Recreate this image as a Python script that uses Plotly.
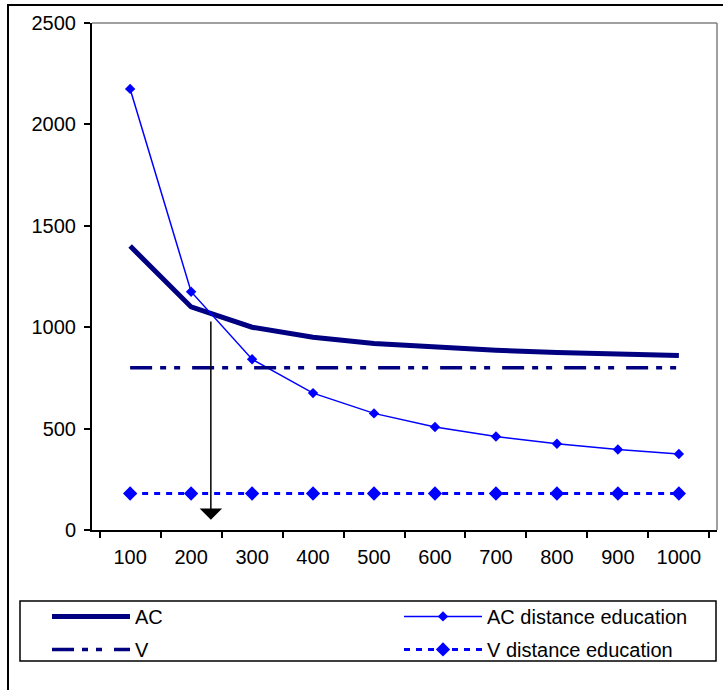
import plotly.graph_objects as go

students = ["100", "200", "300", "400", "500", "600", "700", "800", "900", "1000"]
ac = [1400, 1100, 1000, 950, 920, 900, 886, 875, 867, 860]
ac_distance = [2175, 1175, 842, 675, 575, 508, 461, 425, 397, 375]
v = [800] * 10
v_distance = [180] * 10

NAVY = "#000080"
BLUE = "#0000FF"
FONT = "Arial, Liberation Sans, sans-serif"

fig = go.Figure()
fig.add_trace(go.Scatter(x=students, y=ac, name="AC", mode="lines",
                         legend="legend", legendgroup="a",
                         line={"color": NAVY, "width": 5}))
fig.add_trace(go.Scatter(x=students, y=ac_distance, name="AC distance education",
                         mode="lines+markers", legend="legend2", legendgroup="c",
                         line={"color": BLUE, "width": 1.5},
                         marker={"symbol": "diamond", "size": 8, "color": BLUE}))
fig.add_trace(go.Scatter(x=students, y=v, name="V", mode="lines",
                         legend="legend", legendgroup="b",
                         line={"color": NAVY, "width": 3.5,
                               "dash": "22px,8px,6px,8px,6px,12px"}))
fig.add_trace(go.Scatter(x=students, y=v_distance, name="V distance education",
                         mode="lines+markers", legend="legend2", legendgroup="d",
                         line={"color": BLUE, "width": 3, "dash": "6px,6px"},
                         marker={"symbol": "diamond", "size": 11, "color": BLUE}))

# break-even arrow
fig.add_annotation(x=1.324, y=50, ax=1.324, ay=1035, xref="x", yref="y",
                   axref="x", ayref="y", showarrow=True, arrowhead=1,
                   arrowsize=2.5, arrowwidth=1.5, arrowcolor="black", text="")

# plot area frame (grey top/right), legend box and outer chart border
fig.add_shape(type="line", xref="paper", yref="paper", x0=0, x1=1, y0=1, y1=1,
              line={"color": "#808080", "width": 1.5})
fig.add_shape(type="line", xref="paper", yref="paper", x0=1, x1=1, y0=0, y1=1,
              line={"color": "#808080", "width": 1.5})
fig.add_shape(type="rect", xref="paper", yref="paper",
              x0=-0.1152, x1=0.9984, y0=-0.2584, y1=-0.14,
              line={"color": "black", "width": 1.5})
fig.add_shape(type="rect", xref="paper", yref="paper",
              x0=-0.1344, x1=1.0464, y0=-0.33, y1=1.0355,
              line={"color": "black", "width": 2})

fig.update_xaxes(type="category", tickson="boundaries", ticks="outside",
                 ticklen=6, tickwidth=1.5, tickcolor="black",
                 showline=True, linecolor="black", linewidth=2,
                 showgrid=False, ticklabelstandoff=8, automargin=False,
                 tickfont={"size": 20, "color": "black"})
fig.update_yaxes(range=[0, 2500], dtick=500, ticks="outside", ticklen=6,
                 tickwidth=1.5, tickcolor="black", showline=True,
                 linecolor="black", linewidth=2, showgrid=False,
                 zeroline=False, ticklabelstandoff=4, automargin=False,
                 tickfont={"size": 20, "color": "black"})

legend_common = {
    "orientation": "v",
    "y": -0.132,
    "xanchor": "left",
    "yanchor": "top",
    "itemwidth": 78,
    "tracegroupgap": 4,
    "borderwidth": 0,
    "bgcolor": "rgba(0,0,0,0)",
    "traceorder": "grouped",
    "font": {"size": 20},
}

fig.update_layout(
    width=723,
    height=690,
    margin={"l": 92, "r": 6, "t": 23, "b": 160, "autoexpand": False},
    paper_bgcolor="white",
    plot_bgcolor="white",
    font={"family": FONT, "size": 20, "color": "black"},
    showlegend=True,
    legend={**legend_common, "x": -0.072},
    legend2={**legend_common, "x": 0.4912},
)

fig.write_html("out.html", config={"displayModeBar": False},
               post_script="document.body.style.margin='0';")
